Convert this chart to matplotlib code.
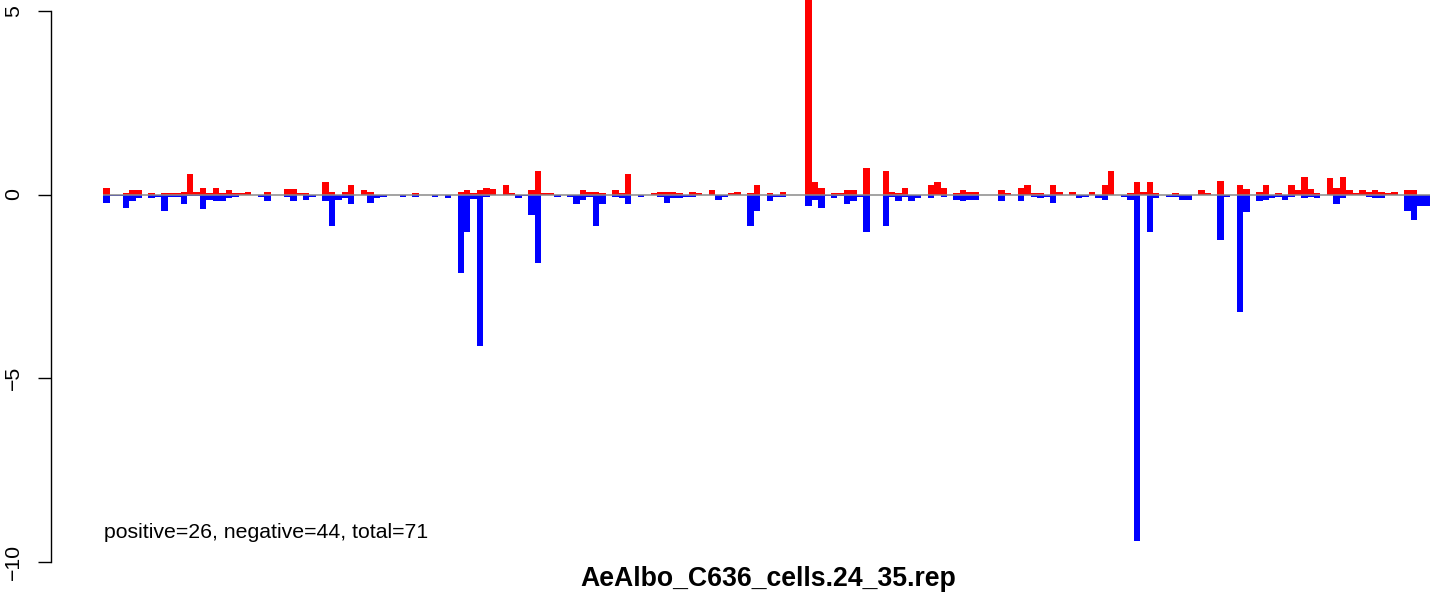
import matplotlib
matplotlib.use("Agg")
import matplotlib.pyplot as plt
import numpy as np

plt.rcParams['font.family'] = ['Liberation Sans', 'DejaVu Sans']

# values per position (positive part in red, negative part in blue)
pos_vals = [
    0.19, 0, 0, 0.03, 0.11, 0.11, 0, 0.03, 0, 0.03,
    0.03, 0.03, 0.08, 0.57, 0.08, 0.19, 0.03, 0.19, 0.03, 0.11,
    0.03, 0.03, 0.08, 0, 0, 0.08, 0, 0, 0.16, 0.16,
    0.03, 0.03, 0, 0, 0.35, 0.08, 0, 0.08, 0.27, 0,
    0.11, 0.08, 0, 0, 0, 0, 0, 0, 0.03, 0,
    0, 0, 0, 0, 0, 0.08, 0.11, 0.03, 0.11, 0.19,
    0.16, 0, 0.27, 0.03, 0, 0, 0.11, 0.63, 0.03, 0.03,
    0, 0, 0, 0, 0.11, 0.08, 0.08, 0.03, 0, 0.11,
    0.03, 0.57, 0, 0, 0, 0.03, 0.08, 0.08, 0.08, 0.03,
    0, 0.08, 0.03, 0, 0.11, 0, 0, 0.03, 0.08, 0,
    0.03, 0.27, 0, 0.03, 0, 0.08, 0, 0, 0, 6.0,
    0.35, 0.19, 0, 0.03, 0.03, 0.11, 0.11, 0, 0.71, 0,
    0, 0.63, 0.08, 0.03, 0.19, 0, 0, 0, 0.25, 0.33,
    0.19, 0, 0.03, 0.11, 0.08, 0.08, 0, 0, 0, 0.11,
    0.03, 0, 0.19, 0.27, 0.03, 0.03, 0, 0.25, 0.08, 0,
    0.08, 0, 0, 0.08, 0, 0.27, 0.65, 0, 0, 0.03,
    0.33, 0.08, 0.33, 0.03, 0, 0, 0.03, 0, 0, 0,
    0.11, 0.03, 0, 0.36, 0, 0, 0.27, 0.16, 0,
    0.08, 0.25, 0, 0.03, 0, 0.25, 0.11, 0.49, 0.16, 0.03,
    0, 0.46, 0.19, 0.49, 0.11, 0.03, 0.11, 0.08, 0.11, 0.08,
    0.03, 0.08, 0, 0.11, 0.11, 0, 0,
]
neg_vals = [
    -0.22, -0.05, -0.05, -0.37, -0.18, -0.10, 0, -0.10, -0.06, -0.45,
    -0.06, -0.06, -0.26, -0.04, -0.04, -0.40, -0.16, -0.18, -0.18, -0.10,
    -0.06, 0, 0, 0, -0.06, -0.18, 0, 0, -0.06, -0.18,
    0, -0.16, -0.06, 0, -0.18, -0.87, -0.15, -0.10, -0.26, 0,
    0, -0.24, -0.10, -0.06, 0, 0, -0.06, 0, -0.06, 0,
    0, -0.06, 0, -0.10, 0, -2.13, -1.03, -0.13, -4.12, -0.06,
    0, 0, 0, 0, -0.10, -0.05, -0.56, -1.88, 0, 0,
    -0.06, 0, -0.06, -0.26, -0.16, -0.06, -0.87, -0.26, 0, -0.06,
    -0.10, -0.26, 0, -0.06, 0, 0, -0.06, -0.24, -0.10, -0.10,
    -0.06, -0.06, 0, 0, 0, -0.16, -0.06, 0, 0, 0,
    -0.87, -0.45, 0, -0.18, -0.06, -0.06, 0, 0, 0, -0.32,
    -0.16, -0.38, -0.05, -0.10, -0.05, -0.26, -0.18, -0.06, -1.03, 0,
    0, -0.87, -0.06, -0.18, -0.06, -0.18, -0.10, 0, -0.10, 0,
    -0.06, 0, -0.15, -0.18, -0.15, -0.15, 0, 0, 0, -0.18,
    0, 0, -0.18, 0, -0.06, -0.10, -0.06, -0.24, 0, 0,
    0, -0.10, -0.06, 0, -0.10, -0.15, 0, 0, -0.06, -0.15,
    -9.43, 0, -1.03, -0.10, 0, -0.06, -0.06, -0.15, -0.15, 0,
    0, 0, 0, -1.23, -0.06, 0, -3.20, -0.48, 0,
    -0.18, -0.15, -0.10, -0.06, -0.15, -0.06, 0, -0.10, -0.06, -0.10,
    0, 0, -0.26, -0.10, 0, 0, 0, -0.06, -0.10, -0.10,
    0, 0, 0, -0.45, -0.70, -0.32, -0.32,
]
y_ticks = [-10, -5, 0, 5]
summary = "positive=26, negative=44, total=71"
title = "AeAlbo_C636_cells.24_35.rep"

W, H = 1444, 593
fig = plt.figure(figsize=(W / 100, H / 100), dpi=100)

# pixel layout
x0_px, slot_px = 103.3, 6.44
y0_px, unit_px = 194.5, 36.7
left_px = 51
ax = fig.add_axes([left_px / W, 0, 1 - left_px / W, 1])
ax.set_xlim((left_px - x0_px) / slot_px, (W - x0_px) / slot_px)
ax.set_ylim((y0_px - H) / unit_px, y0_px / unit_px)

n = len(pos_vals)
idx = np.arange(n)
ax.bar(idx, pos_vals, width=1, align='edge', color='#ff0000', linewidth=0)
ax.bar(idx, neg_vals, width=1, align='edge', color='#0000ff', linewidth=0)
ax.hlines(0, 0, n, color='#8a8a8a', lw=1.1, zorder=3)

for s in ['top', 'right', 'bottom']:
    ax.spines[s].set_visible(False)
ax.spines['left'].set_bounds(-10, 5)
ax.spines['left'].set_linewidth(1.0)
ax.set_xticks([])
ax.set_yticks(y_ticks)
ax.set_yticklabels([str(t).replace('-', '\u2212') for t in y_ticks],
                   rotation=90, va='center', fontsize=15.3)
ax.tick_params(axis='y', length=9.4, width=1.0, pad=11)

fig.text(104 / W, 1 - 533 / H, summary, fontsize=15.3, ha='left', va='center')
fig.text(768 / W, 1 - 579 / H, title, fontsize=19.2, fontweight='bold',
         ha='center', va='center')

fig.savefig('out.png', dpi=100)
